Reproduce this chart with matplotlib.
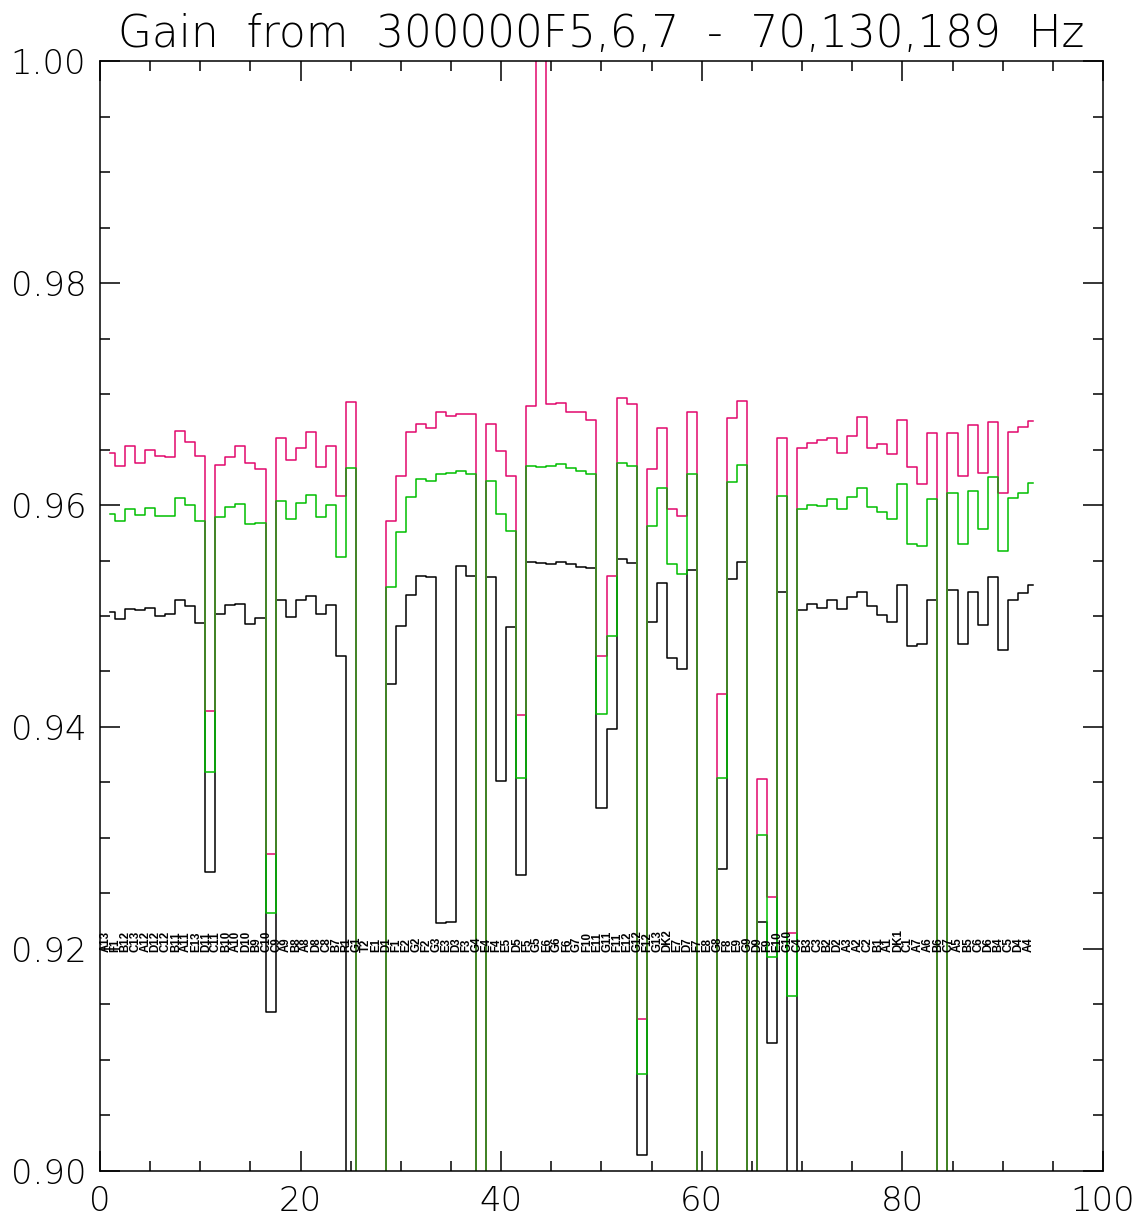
import numpy as np
import matplotlib
matplotlib.use("Agg")
import matplotlib.pyplot as plt
from matplotlib.ticker import MultipleLocator

# channel labels, one per bin (x = 1..93)
labels = ["A13", "F1", "B12", "C13", "A12", "D12", "C12", "B11", "A11", "E13",
          "D11", "C11", "B10", "A10", "D10", "B9", "C10", "C9", "A9", "B8",
          "A8", "D8", "C8", "B7", "R1", "G1", "T2", "E1", "D1", "F1",
          "E2", "G2", "F2", "G3", "E3", "D3", "F3", "G4", "E4", "F4",
          "E5", "D5", "F5", "G5", "E6", "G6", "F6", "G7", "F10", "E11",
          "G11", "F11", "E12", "G12", "F12", "G13", "DK2", "E7", "D7", "F7",
          "E8", "G8", "F8", "E9", "G9", "D9", "F9", "E10", "G10", "C4",
          "B3", "C3", "B2", "D2", "A3", "A2", "C2", "B1", "A1", "DK1",
          "C1", "A7", "A6", "B6", "C7", "A5", "B5", "C6", "D6", "B4",
          "C5", "D4", "A4"]

# gain at 189 Hz (red)
gain_189 = [0.9647, 0.9635, 0.9653, 0.9638, 0.9650, 0.9644, 0.9643, 0.9667, 0.9657, 0.9644,
            0.9414, 0.9636, 0.9643, 0.9653, 0.9638, 0.9632, 0.9286, 0.9660, 0.9641, 0.9651,
            0.9666, 0.9634, 0.9653, 0.9608, 0.9693, 0.85, 0.85, 0.85, 0.9586, 0.9626,
            0.9666, 0.9673, 0.9669, 0.9684, 0.9680, 0.9682, 0.9682, 0.85, 0.9673, 0.9649,
            0.9626, 0.9411, 0.9689, 1.05, 0.9691, 0.9692, 0.9684, 0.9684, 0.9677, 0.9464,
            0.9536, 0.9696, 0.9691, 0.9137, 0.9632, 0.9669, 0.9596, 0.9590, 0.9684, 0.85,
            0.85, 0.9430, 0.9678, 0.9694, 0.85, 0.9353, 0.9247, 0.9660, 0.9214, 0.9651,
            0.9656, 0.9659, 0.9660, 0.9647, 0.9662, 0.9679, 0.9651, 0.9655, 0.9646, 0.9677,
            0.9634, 0.9619, 0.9665, 0.85, 0.9665, 0.9626, 0.9672, 0.9629, 0.9675, 0.9611,
            0.9666, 0.9670, 0.9676]

# gain at 130 Hz (green)
gain_130 = [0.9592, 0.9586, 0.9596, 0.9591, 0.9597, 0.9590, 0.9590, 0.9606, 0.9600, 0.9586,
            0.9359, 0.9589, 0.9598, 0.9601, 0.9583, 0.9584, 0.9232, 0.9604, 0.9587, 0.9602,
            0.9609, 0.9589, 0.9600, 0.9553, 0.9633, 0.85, 0.85, 0.85, 0.9526, 0.9576,
            0.9607, 0.9623, 0.9622, 0.9628, 0.9629, 0.9631, 0.9628, 0.85, 0.9622, 0.9592,
            0.9577, 0.9354, 0.9635, 0.9634, 0.9635, 0.9637, 0.9633, 0.9631, 0.9628, 0.9412,
            0.9482, 0.9638, 0.9635, 0.9087, 0.9581, 0.9615, 0.9547, 0.9538, 0.9628, 0.85,
            0.85, 0.9354, 0.9621, 0.9636, 0.85, 0.9303, 0.9193, 0.9608, 0.9158, 0.9596,
            0.9600, 0.9599, 0.9605, 0.9596, 0.9607, 0.9615, 0.9598, 0.9594, 0.9587, 0.9619,
            0.9565, 0.9563, 0.9605, 0.85, 0.9611, 0.9565, 0.9613, 0.9578, 0.9625, 0.9559,
            0.9606, 0.9611, 0.9620]

# gain at 70 Hz (black)
gain_70 = [0.9504, 0.9497, 0.9506, 0.9505, 0.9507, 0.9500, 0.9502, 0.9514, 0.9509, 0.9494,
           0.9269, 0.9502, 0.9510, 0.9511, 0.9493, 0.9498, 0.9143, 0.9514, 0.9499, 0.9514,
           0.9518, 0.9502, 0.9510, 0.9464, 0.85, 0.85, 0.85, 0.85, 0.9439, 0.9491,
           0.9519, 0.9536, 0.9535, 0.9223, 0.9224, 0.9545, 0.9536, 0.85, 0.9535, 0.9351,
           0.9490, 0.9267, 0.9549, 0.9548, 0.9547, 0.9549, 0.9547, 0.9544, 0.9543, 0.9327,
           0.9398, 0.9551, 0.9548, 0.9014, 0.9495, 0.9530, 0.9462, 0.9452, 0.9541, 0.85,
           0.85, 0.9272, 0.9533, 0.9549, 0.85, 0.9224, 0.9115, 0.9522, 0.85, 0.9505,
           0.9511, 0.9507, 0.9514, 0.9506, 0.9517, 0.9522, 0.9509, 0.9501, 0.9495, 0.9528,
           0.9473, 0.9475, 0.9514, 0.85, 0.9523, 0.9475, 0.9522, 0.9492, 0.9535, 0.9469,
           0.9514, 0.9521, 0.9528]

RED = "#E2086C"
GREEN = "#00BE00"
OLIVE = "#4A7E2C"

x = np.arange(1, len(labels) + 1)
r = np.array(gain_189)
g = np.array(gain_130)
k = np.array(gain_70)

fig = plt.figure(figsize=(11.38, 12.21), dpi=100)
ax = fig.add_axes([0.0879, 0.0410, 0.8813, 0.9090])

lw = 1.1
ax.step(x, k, where="mid", color="black", lw=lw)
ax.step(x, r, where="mid", color=RED, lw=lw)
ax.step(x, g, where="mid", color=GREEN, lw=lw)

# where the red and green risers coincide the reference shows a mixed olive line
xb = x[:-1] + 0.5
lo = np.maximum(np.minimum(r[:-1], r[1:]), np.minimum(g[:-1], g[1:]))
hi = np.minimum(np.maximum(r[:-1], r[1:]), np.maximum(g[:-1], g[1:]))
m = hi > lo
ax.vlines(xb[m], lo[m], hi[m], color=OLIVE, lw=lw)

for xi, lab in zip(x, labels):
    ax.text(xi + 0.15, 0.9197, lab, rotation=90, ha="right", va="bottom",
            fontsize=8.3, family="Liberation Sans", fontweight="bold")

ax.set_xlim(0, 100)
ax.set_ylim(0.90, 1.00)
ax.xaxis.set_major_locator(MultipleLocator(20))
ax.xaxis.set_minor_locator(MultipleLocator(5))
ax.yaxis.set_major_locator(MultipleLocator(0.02))
ax.yaxis.set_minor_locator(MultipleLocator(0.005))
ax.yaxis.set_major_formatter(matplotlib.ticker.FormatStrFormatter("%.2f"))
ax.tick_params(which="both", direction="in", top=True, right=True, width=1.1)
ax.tick_params(which="major", length=14.5, labelsize=24.5, pad=10)
ax.tick_params(which="minor", length=7.2)
for t in ax.get_xticklabels() + ax.get_yticklabels():
    t.set_fontweight("light")
for s in ax.spines.values():
    s.set_linewidth(1.1)

ax.set_title("Gain  from  300000F5,6,7  -  70,130,189  Hz", fontsize=31.5, pad=10,
             fontweight="light")

fig.savefig("out.png", dpi=100)
